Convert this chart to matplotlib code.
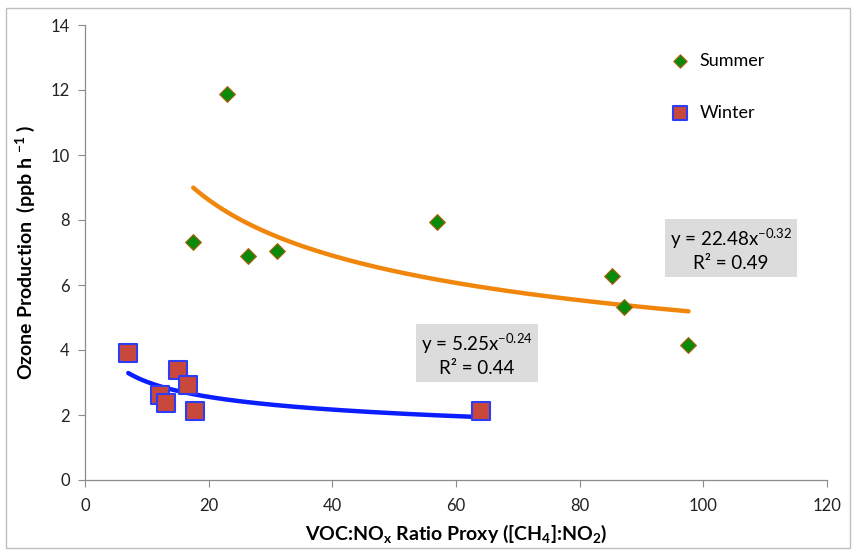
import matplotlib
matplotlib.use("Agg")
import matplotlib.pyplot as plt
import numpy as np
from matplotlib.patches import Rectangle

plt.rcParams['font.family'] = ['Lato', 'DejaVu Sans']
plt.rcParams['mathtext.fontset'] = 'custom'
plt.rcParams['mathtext.rm'] = 'Lato'
plt.rcParams['mathtext.bf'] = 'Lato:bold'

summer_x = [23.0, 17.5, 26.4, 31.1, 57.0, 85.3, 87.2, 97.6]
summer_y = [11.88, 7.32, 6.89, 7.05, 7.94, 6.28, 5.32, 4.15]
winter_x = [7.0, 12.1, 13.1, 15.0, 16.7, 17.8, 64.1]
winter_y = [3.91, 2.62, 2.37, 3.38, 2.92, 2.12, 2.12]

summer_a, summer_b, summer_r2 = 22.48, -0.32, 0.49
winter_a, winter_b, winter_r2 = 5.25, -0.24, 0.44

xticks = [0, 20, 40, 60, 80, 100, 120]
yticks = [0, 2, 4, 6, 8, 10, 12, 14]

fig = plt.figure(figsize=(8.56, 5.56), dpi=100)
ax = fig.add_axes([85/856, 1-480/556, (827-85)/856, (480-25)/556])

fig.patches.append(Rectangle((6/856, 8/556), (850-6)/856, (548-8)/556,
                             transform=fig.transFigure, fill=False,
                             edgecolor='#bfbfbf', linewidth=1))

# trend lines
xs = np.linspace(min(summer_x), max(summer_x), 200)
ax.plot(xs, summer_a * xs ** summer_b, color='#f0870c', lw=3.2, zorder=2,
        solid_capstyle='round')
xw = np.linspace(min(winter_x), max(winter_x), 200)
ax.plot(xw, winter_a * xw ** winter_b, color='#0a1eff', lw=3.2, zorder=2,
        solid_capstyle='round')

ax.scatter(summer_x, summer_y, marker='D', s=65, color='#0a8a0a',
           edgecolors='#b06010', linewidths=0.8, zorder=3, label='Summer')
ax.scatter(winter_x, winter_y, marker='s', s=150, color='#c9483c',
           edgecolors='#2f3cf5', linewidths=1.5, zorder=3, label='Winter')

ax.set_xlim(0, 120)
ax.set_ylim(0, 14)
ax.set_xticks(xticks)
ax.set_yticks(yticks)
ax.tick_params(axis='both', labelsize=12, color='#8c8c8c', length=5,
               labelcolor='#222222')
ax.tick_params(axis='x', pad=8)
ax.tick_params(axis='y', pad=6)
for s in ['top', 'right']:
    ax.spines[s].set_visible(False)
for s in ['left', 'bottom']:
    ax.spines[s].set_color('#8c8c8c')
    ax.spines[s].set_linewidth(0.9)

ax.set_xlabel(r'VOC:NO$_\mathbf{x}$ Ratio Proxy ([CH$_\mathbf{4}$]:NO$_\mathbf{2}$)',
              fontsize=14, fontweight='bold', labelpad=6)
ax.set_ylabel(r'Ozone Production  (ppb h $^{\mathbf{-1}}$ )', fontsize=14,
              fontweight='bold', labelpad=10)

leg = ax.legend(loc='upper left', bbox_to_anchor=(0.76, 0.967), frameon=False,
                fontsize=13, handletextpad=0.1, labelspacing=2.0,
                borderaxespad=0.3, markerscale=0.85)

ax.text(731/856, 1-249/556,
        f'y = {summer_a}x$^{{{summer_b}}}$\nR² = {summer_r2}',
        transform=fig.transFigure, ha='center', va='center', fontsize=13.5,
        linespacing=1.3,
        bbox=dict(boxstyle='square,pad=0.25', facecolor='#dcdcdc',
                  edgecolor='none'))
ax.text(477/856, 1-354/556,
        f'y = {winter_a}x$^{{{winter_b}}}$\nR² = {winter_r2}',
        transform=fig.transFigure, ha='center', va='center', fontsize=13.5,
        linespacing=1.3,
        bbox=dict(boxstyle='square,pad=0.25', facecolor='#dcdcdc',
                  edgecolor='none'))

fig.savefig('out.png', dpi=100)
